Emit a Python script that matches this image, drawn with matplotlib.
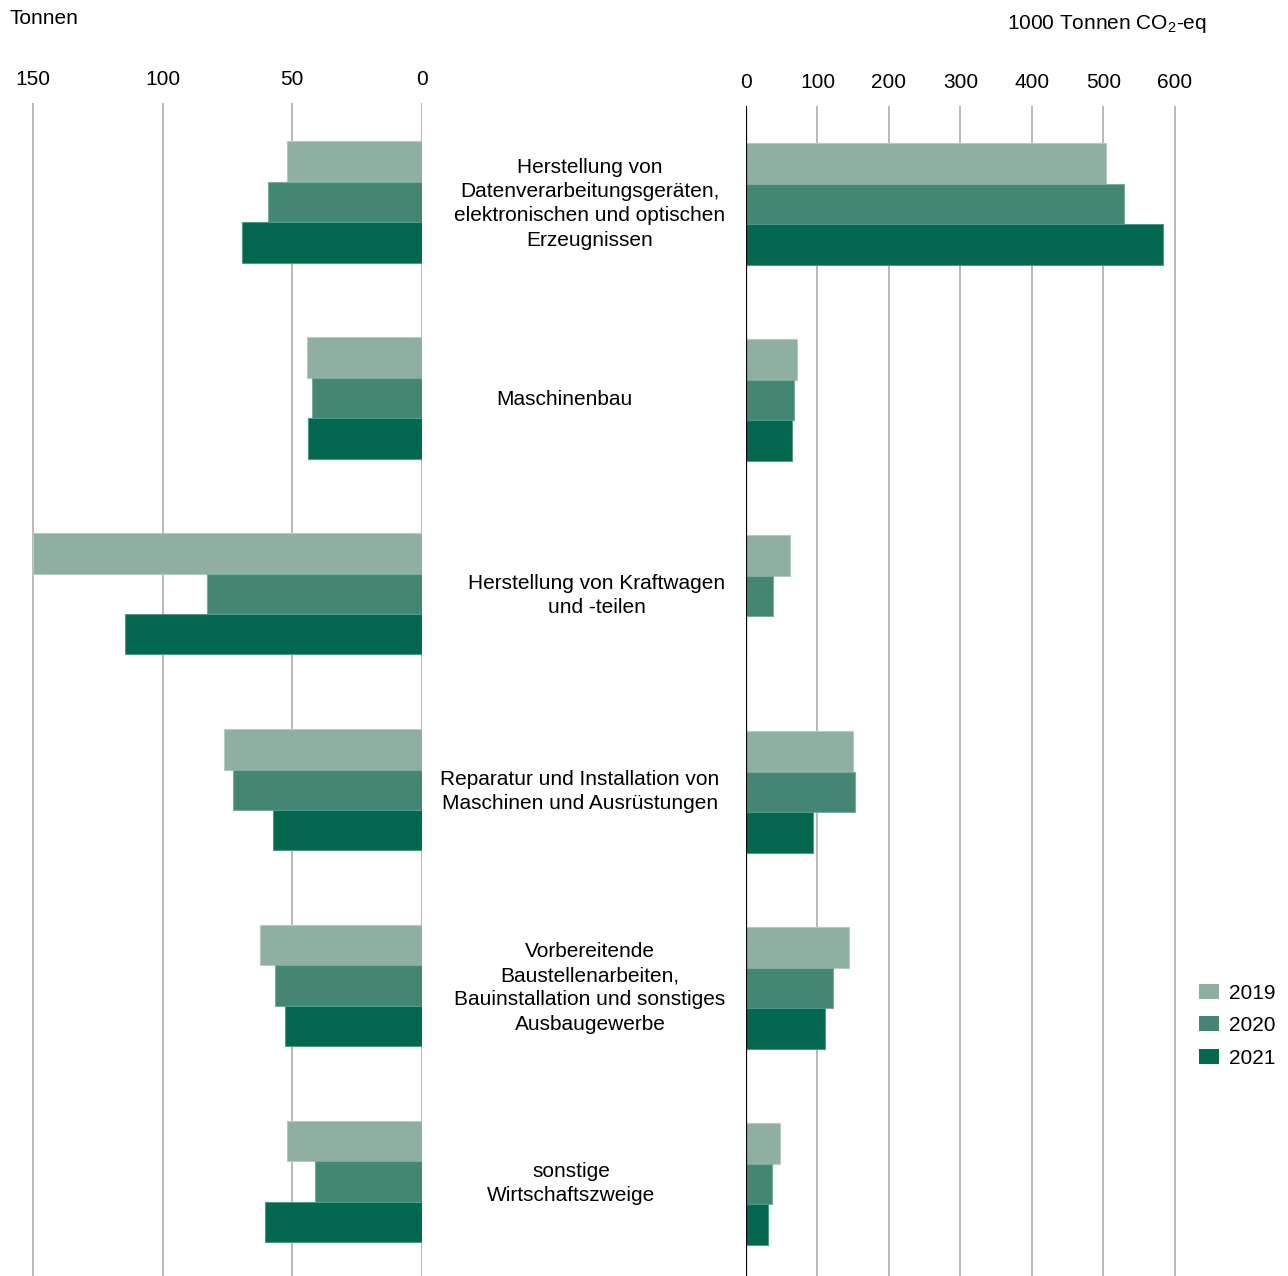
import matplotlib
matplotlib.use("Agg")
import matplotlib.pyplot as plt
from matplotlib.patches import Patch
import numpy as np

plt.rcParams['font.family'] = ['Liberation Sans', 'DejaVu Sans']
plt.rcParams['mathtext.fontset'] = 'custom'
plt.rcParams['mathtext.rm'] = 'Liberation Sans'
plt.rcParams['mathtext.default'] = 'regular'

# Wirtschaftszweige (von oben nach unten)
branchen = [
    "Herstellung von\nDatenverarbeitungsgeräten,\nelektronischen und optischen\nErzeugnissen",
    "Maschinenbau",
    "Herstellung von Kraftwagen\nund -teilen",
    "Reparatur und Installation von\nMaschinen und Ausrüstungen",
    "Vorbereitende\nBaustellenarbeiten,\nBauinstallation und sonstiges\nAusbaugewerbe",
    "sonstige\nWirtschaftszweige",
]
jahre = ["2019", "2020", "2021"]

# linke Seite: Tonnen
tonnen_2019 = [52.1, 44.3, 150.0, 76.4, 62.5, 52.1]
tonnen_2020 = [59.4, 42.4, 82.9, 72.9, 56.7, 41.3]
tonnen_2021 = [69.4, 44.0, 114.5, 57.5, 52.8, 60.5]

# rechte Seite: 1000 Tonnen CO2-eq
co2_2019 = [503, 71, 62, 150, 144, 48]
co2_2020 = [529, 67, 38, 152, 122, 36]
co2_2021 = [583, 64, 0, 94, 110, 31]

farben = ["#8FAFA0", "#458574", "#03684F"]
kanten = ["#B4CCC0", "#7AAA9C", "#4A9A84"]
fs = 15

W, H = 1288, 1276
fig = plt.figure(figsize=(W / 100, H / 100), dpi=100)

def px_axes(x0, y0, x1, y1):
    return fig.add_axes([x0 / W, 1 - y1 / H, (x1 - x0) / W, (y1 - y0) / H])

ax_l = px_axes(7, 103, 422, 1276)
ax_r = px_axes(746, 106, 1190, 1276)

pos = np.arange(len(branchen))
bh = 0.2066
offs = [-bh, 0, bh]

for i, werte in enumerate([tonnen_2019, tonnen_2020, tonnen_2021]):
    ax_l.barh(pos + offs[i], werte, height=bh, color=farben[i],
              edgecolor=kanten[i], linewidth=0.8, zorder=3)
for i, werte in enumerate([co2_2019, co2_2020, co2_2021]):
    ax_r.barh(pos + offs[i], werte, height=bh, color=farben[i],
              edgecolor=kanten[i], linewidth=0.8, zorder=3)

ax_l.set_xlim(160, 0)
ax_l.set_ylim(5.481, -0.504)
ax_l.set_xticks([150, 100, 50, 0])

ax_r.set_xlim(0, 621)
ax_r.set_ylim(5.469, -0.499)
ax_r.set_xticks(range(0, 601, 100))

for ax in (ax_l, ax_r):
    ax.xaxis.tick_top()
    ax.tick_params(axis='x', length=0, pad=10, labelsize=fs)
    ax.set_yticks([])
    for s in ax.spines.values():
        s.set_visible(False)
    ax.grid(axis='x', color='#A6A6A6', linewidth=1.1, zorder=0)
    ax.set_axisbelow(True)

ax_r.axvline(0, color='black', linewidth=1.6, zorder=4)

# Beschriftung der Wirtschaftszweige in der Mitte
label_x = [590, 564, 597, 580, 590, 571]
for i, txt in enumerate(branchen):
    yfig = 1 - (105 + (pos[i] + 0.504) / 5.985 * 1173) / H
    fig.text(label_x[i] / W, yfig, txt, ha='center', va='center',
             fontsize=fs, linespacing=1.36)

fig.text(10 / W, 1 - 19 / H, "Tonnen", ha='left', va='center', fontsize=fs)
fig.text(1207 / W, 1 - 24 / H, "1000 Tonnen CO$_2$-eq", ha='right',
         va='center', fontsize=fs)

handles = [Patch(facecolor=c, edgecolor='none') for c in farben]
fig.legend(handles, jahre, loc='upper left',
           bbox_to_anchor=(1184 / W, 1 - 969 / H), frameon=False,
           fontsize=fs, handlelength=1.0, handleheight=0.75,
           handletextpad=0.45, labelspacing=0.65, borderpad=0.2)

plt.savefig("out.png", dpi=100)
